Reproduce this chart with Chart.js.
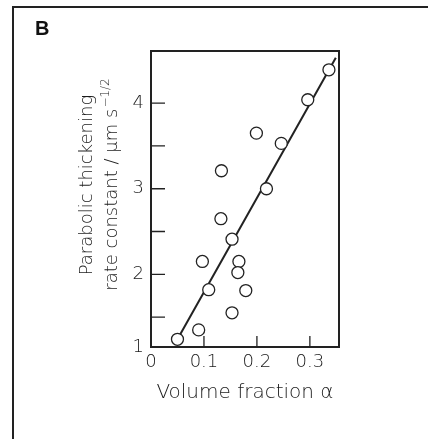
<!DOCTYPE html>
<html>
<head>
<meta charset="utf-8">
<script src="https://cdn.jsdelivr.net/npm/chart.js@4/dist/chart.umd.min.js"></script>
<style>
  html, body { margin: 0; padding: 0; background: #fff; }
  #wrap { width: 428px; height: 439px; position: relative; }
</style>
</head>
<body>
<div id="wrap"><canvas id="chart"></canvas></div>
<script>
// measured points (volume fraction, rate constant)
const volFraction = [0.050, 0.090, 0.109, 0.097, 0.132, 0.133, 0.153, 0.153, 0.166, 0.164, 0.179, 0.199, 0.218, 0.246, 0.296, 0.336];
const rateConst   = [1.24, 1.35, 1.82, 2.15, 2.65, 3.21, 2.41, 1.55, 2.15, 2.02, 1.81, 3.65, 3.00, 3.53, 4.04, 4.39];

// fitted line end points
const fitX = [0.050, 0.349];
const fitY = [1.24, 4.53];

const xTicks = [0, 0.1, 0.2, 0.3];
const yTicks = [1.15, 1.5, 2, 2.5, 3, 3.5, 4];
const yLabels = ["1", "", "2", "", "3", "", "4"];

const INK = "#222";
const TXT = "#1a1a1a";
const FONT = "DejaVu Sans";

const frame = {
    id: "frame",
    afterDraw(chart) {
        const { ctx, chartArea: a, scales } = chart;
        ctx.save();
        // outer panel frame
        ctx.strokeStyle = INK;
        ctx.lineWidth = 2;
        ctx.beginPath();
        ctx.moveTo(13, 439);
        ctx.lineTo(13, 7);
        ctx.lineTo(428, 7);
        ctx.stroke();

        ctx.fillStyle = "#111";
        ctx.font = "bold 20px 'Liberation Sans'";
        ctx.textBaseline = "alphabetic";
        ctx.fillText("B", 35, 35);

        // plot box
        ctx.strokeRect(a.left, a.top, a.right - a.left, a.bottom - a.top);

        // inward ticks
        ctx.lineWidth = 1.3;
        ctx.beginPath();
        yTicks.slice(1).forEach(v => {
            const y = scales.y.getPixelForValue(v);
            ctx.moveTo(a.left, y);
            ctx.lineTo(a.left + 14, y);
        });
        xTicks.slice(1).forEach(v => {
            const x = scales.x.getPixelForValue(v);
            ctx.moveTo(x, a.bottom);
            ctx.lineTo(x, a.bottom - 11);
        });
        ctx.stroke();

        // y title, two lines with superscript
        ctx.fillStyle = TXT;
        ctx.font = "200 18px '" + FONT + "'";
        ctx.textBaseline = "alphabetic";
        const cy = 185;
        ctx.translate(0, cy);
        ctx.rotate(-Math.PI / 2);
        ctx.textAlign = "center";
        ctx.fillText("Parabolic thickening", 0, 92);
        const main = "rate constant / \u03bcm s";
        const sup = "\u22121/2";
        ctx.textAlign = "left";
        const w1 = ctx.measureText(main).width;
        ctx.font = "200 12px '" + FONT + "'";
        const w2 = ctx.measureText(sup).width;
        const start = -(w1 + w2) / 2;
        ctx.font = "200 18px '" + FONT + "'";
        ctx.fillText(main, start, 117);
        ctx.font = "200 12px '" + FONT + "'";
        ctx.fillText(sup, start + w1 + 1, 109);
        ctx.restore();
    }
};

new Chart(document.getElementById("chart"), {
    data: {
        datasets: [
            {
                type: "scatter",
                data: volFraction.map((x, i) => ({ x, y: rateConst[i] })),
                pointRadius: 6,
                pointHoverRadius: 6,
                pointBackgroundColor: "#fff",
                pointBorderColor: INK,
                pointBorderWidth: 1.3,
                order: 1
            },
            {
                type: "line",
                data: fitX.map((x, i) => ({ x, y: fitY[i] })),
                borderColor: INK,
                borderWidth: 2,
                pointRadius: 0,
                fill: false,
                order: 2
            }
        ]
    },
    options: {
        responsive: true,
        maintainAspectRatio: false,
        animation: false,
        events: [],
        layout: { padding: { top: 51, right: 89, left: 0, bottom: 0 } },
        plugins: { legend: { display: false }, tooltip: { enabled: false } },
        scales: {
            x: {
                type: "linear",
                min: 0,
                max: 0.355,
                grid: { display: false, drawTicks: false },
                border: { display: false },
                afterBuildTicks: s => { s.ticks = xTicks.map(v => ({ value: v })); },
                afterFit: s => { s.height = 92; },
                ticks: {
                    color: TXT,
                    padding: 5,
                    maxRotation: 0,
                    font: { family: FONT, size: 18, weight: "200" },
                    callback: v => v === 0 ? "0" : v.toFixed(1)
                },
                title: {
                    display: true,
                    text: "Volume fraction \u03b1",
                    color: TXT,
                    font: { family: FONT, size: 20, weight: "200" },
                    padding: { top: 4, bottom: 34 }
                }
            },
            y: {
                type: "linear",
                min: 1.15,
                max: 4.61,
                grid: { display: false, drawTicks: false },
                border: { display: false },
                afterBuildTicks: s => { s.ticks = yTicks.map(v => ({ value: v })); },
                afterFit: s => { s.width = 151; },
                ticks: {
                    color: TXT,
                    padding: 7,
                    font: { family: FONT, size: 18, weight: "200" },
                    callback: (v, i) => yLabels[i]
                }
            }
        }
    },
    plugins: [frame]
});
</script>
</body>
</html>
